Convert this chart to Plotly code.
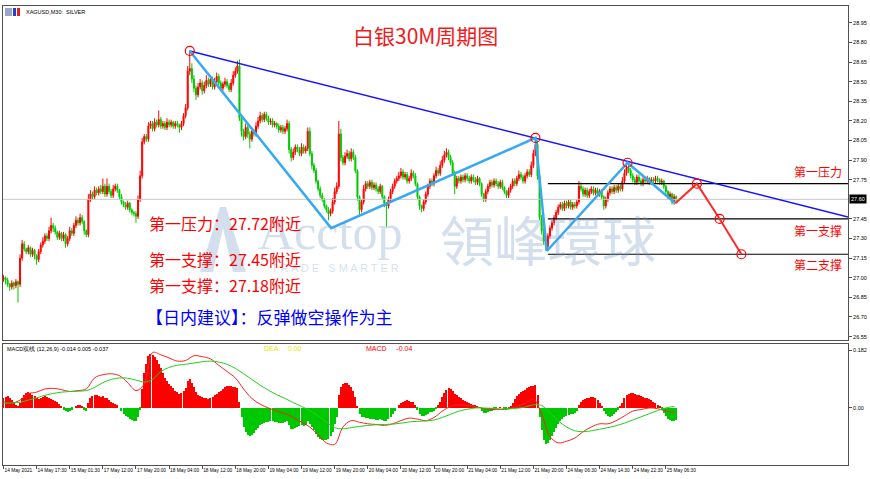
import plotly.graph_objects as go

# ---------------- data ----------------
closes = [
 27.00, 26.98, 26.95, 26.93, 26.96, 26.94, 26.97, 26.95, 27.15, 27.26,
 27.22, 27.20, 27.23, 27.18, 27.21, 27.17, 27.14, 27.20, 27.25, 27.28,
 27.32, 27.30, 27.36, 27.40, 27.38, 27.35, 27.31, 27.34, 27.30, 27.33,
 27.26, 27.30, 27.36, 27.34, 27.40, 27.44, 27.42, 27.46, 27.43, 27.36,
 27.33, 27.60, 27.64, 27.62, 27.67, 27.65, 27.68, 27.66, 27.70, 27.64,
 27.70, 27.66, 27.63, 27.68, 27.70, 27.67, 27.62, 27.58, 27.56, 27.54,
 27.57, 27.52, 27.50, 27.49, 27.47, 27.60, 27.78, 28.04, 28.08, 28.06,
 28.16, 28.18, 28.14, 28.19, 28.17, 28.21, 28.16, 28.18, 28.15, 28.19,
 28.17, 28.19, 28.16, 28.18, 28.17, 28.15, 28.18, 28.24, 28.30, 28.58,
 28.60, 28.52, 28.45, 28.40, 28.46, 28.49, 28.43, 28.47, 28.51, 28.48,
 28.52, 28.46, 28.50, 28.54, 28.49, 28.45, 28.48, 28.50, 28.47, 28.44,
 28.49, 28.55, 28.58, 28.62, 28.22, 28.12, 28.08, 28.15, 28.10, 28.06,
 28.12, 28.10, 28.16, 28.20, 28.24, 28.21, 28.25, 28.22, 28.19, 28.20,
 28.17, 28.18, 28.16, 28.13, 28.15, 28.12, 28.14, 28.18, 27.98, 27.92,
 27.96, 28.00, 27.98, 27.95, 28.00, 27.97, 27.99, 28.12, 27.95, 27.86,
 27.82, 27.74, 27.68, 27.63, 27.60, 27.55, 27.52, 27.49, 27.51, 27.58,
 27.66, 27.70, 28.10, 27.92, 27.88, 27.93, 27.95, 27.91, 27.96, 27.92,
 27.82, 27.62, 27.52, 27.58, 27.68, 27.72, 27.70, 27.73, 27.69, 27.71,
 27.68, 27.66, 27.70, 27.62, 27.57, 27.55, 27.60, 27.66, 27.70, 27.74,
 27.76, 27.78, 27.81, 27.77, 27.79, 27.74, 27.76, 27.80, 27.78, 27.72,
 27.62, 27.55, 27.53, 27.58, 27.64, 27.70, 27.74, 27.72, 27.78, 27.82,
 27.80, 27.86, 27.90, 27.94, 27.96, 27.92, 27.88, 27.80, 27.70, 27.76,
 27.74, 27.77, 27.75, 27.78, 27.76, 27.74, 27.77, 27.75, 27.73, 27.76,
 27.72, 27.64, 27.60, 27.66, 27.70, 27.73, 27.71, 27.74, 27.72, 27.70,
 27.73, 27.69, 27.66, 27.63, 27.67, 27.70, 27.74, 27.72, 27.76, 27.79,
 27.77, 27.74, 27.78, 27.81, 27.79, 27.86, 27.95, 28.02, 27.78, 27.46,
 27.36, 27.28, 27.24, 27.32, 27.38, 27.42, 27.46, 27.50, 27.54, 27.56,
 27.53, 27.57, 27.55, 27.58, 27.54, 27.56, 27.55, 27.58, 27.70, 27.68,
 27.64, 27.67, 27.63, 27.66, 27.68, 27.65, 27.67, 27.64, 27.66, 27.62,
 27.55, 27.60, 27.65, 27.68, 27.66, 27.69, 27.67, 27.70, 27.68, 27.74,
 27.80, 27.84, 27.82, 27.78, 27.75, 27.73, 27.77, 27.74, 27.72, 27.75,
 27.74, 27.76, 27.73, 27.75, 27.74, 27.76, 27.75, 27.73, 27.74, 27.70,
 27.66, 27.62, 27.64, 27.58, 27.62, 27.60,
]
first_open = 26.99

# upper / lower wick lengths in cents
up_wick = [
 2,1,2,1,2,1,2,1,3,3, 2,1,2,1,2,1,1,2,2,3, 2,2,3,6,2,2,1,2,1,2,
 1,2,3,2,2,3,2,3,2,1, 1,4,3,2,3,2,2,3,6,2, 6,2,2,3,2,2,1,2,1,2,
 2,1,1,1,2,3,4,3,2,2, 3,2,2,3,2,7,2,2,2,3, 2,2,1,2,2,1,2,2,3,4,
 14,4,3,2,3,3,2,3,4,2, 3,2,3,3,2,2,2,3,2,2, 3,3,3,4,5,3,2,3,2,2,
 3,2,3,3,3,2,2,2,2,2, 2,2,1,2,2,2,2,3,2,2, 3,2,2,2,3,2,2,3,3,2,
 2,2,1,2,2,1,1,2,2,3, 3,3,10,4,2,3,3,2,3,2, 2,1,1,2,3,2,2,2,2,2,
 2,2,2,1,1,1,2,2,2,2, 2,3,3,2,2,2,2,3,2,2, 1,1,1,2,2,2,2,2,2,3,
 2,3,3,3,3,2,2,2,2,2, 2,2,2,2,2,2,2,2,2,2, 1,1,1,2,2,2,2,2,2,2,
 2,2,1,1,2,2,2,2,2,3, 2,2,2,2,2,3,3,5,3,2, 2,2,2,2,2,2,2,2,2,2,
 2,2,2,2,2,2,2,2,4,3, 2,2,2,2,2,2,2,2,2,2, 1,2,2,2,2,2,2,2,2,3,
 3,4,3,2,2,2,2,2,2,2, 2,2,1,2,2,2,2,1,2,1, 1,1,2,1,2,1,
]
low_wick = [
 2,3,2,3,2,3,2,14,2,2, 2,2,2,2,2,3,4,2,2,2, 2,2,2,2,3,2,2,2,2,2,
 3,2,2,2,2,2,2,2,2,3, 2,2,2,2,2,2,2,2,2,2, 2,2,2,2,2,2,2,2,2,2,
 2,2,2,2,5,2,2,2,2,2, 2,2,2,2,2,2,2,2,2,2, 2,2,2,2,2,4,2,2,2,2,
 3,3,3,4,2,2,3,2,2,2, 2,2,2,2,2,2,2,2,2,2, 2,2,2,2,2,4,3,2,3,7,
 2,2,2,2,2,2,2,2,2,2, 2,2,2,2,2,2,2,2,3,3, 2,2,2,2,2,2,2,2,2,3,
 2,2,2,2,2,2,2,5,2,2, 2,2,2,3,2,2,2,2,2,2, 2,3,4,2,2,2,2,2,2,2,
 2,2,2,2,3,16,2,2,2,2, 2,2,2,2,2,2,2,2,2,2, 2,3,3,2,2,2,2,2,2,2,
 2,2,2,2,2,2,2,2,6,2, 2,2,2,2,2,2,2,2,2,2, 2,2,2,2,2,2,2,2,2,2,
 2,2,2,2,2,2,2,2,2,2, 2,2,2,2,2,2,2,2,3,2, 3,3,3,2,2,2,2,2,2,2,
 2,2,2,2,2,2,2,2,2,2, 2,2,2,2,2,2,2,2,2,2, 3,2,2,2,2,2,2,2,2,2,
 2,2,2,2,2,2,2,2,2,2, 2,2,2,2,2,2,2,2,2,2, 2,2,2,2,2,2,
]

# MACD histogram (thousandths), one per bar
macd_hist = [
 30,35,38,32,25,18,10,5,15,30, 42,48,50,47,42,38,30,28,32,35,
 38,36,32,28,25,22,18,12,5,-5, -10,-12,-8,-5,0,5,8,10,6,-5,
 -10,15,30,38,42,40,38,35,38,32, 30,25,20,15,12,8,0,-10,-18,-25,
 -30,-35,-38,-40,-42,-30,-5,60,110,140, 165,170,168,160,150,140,125,110,95,85,
 75,70,62,55,50,45,48,55,62,85, 90,80,65,50,42,38,35,30,30,28,
 32,36,40,45,50,55,60,65,68,70, 68,66,65,62,20,-30,-60,-75,-85,-90,
 -85,-80,-70,-62,-55,-50,-48,-45,-44,-42, -42,-43,-45,-46,-48,-47,-45,-42,-55,-65,
 -66,-62,-60,-58,-55,-56,-55,-40,-50,-60, -70,-82,-92,-98,-100,-102,-100,-98,-90,-75,
 -50,-30,40,65,75,80,78,72,65,55, 35,5,-20,-28,-30,-32,-33,-35,-34,-36,
 -38,-38,-36,-38,-40,-40,-36,-30,-20,-10, 0,8,15,20,22,24,22,20,18,10,
 -5,-18,-25,-25,-22,-18,-14,-12,-8,-2, 8,20,35,48,58,62,60,55,45,40,
 35,30,26,22,18,15,12,10,8,6, 2,-8,-15,-15,-12,-10,-8,-5,-2,0,
 2,0,-2,-5,-2,5,15,28,38,45, 50,55,58,62,65,68,70,72,40,-30,
 -70,-100,-115,-110,-100,-90,-75,-62,-50,-40, -35,-30,-25,-22,-20,-18,-15,-10,10,20,
 25,28,30,32,35,34,30,25,15,5, -10,-20,-25,-28,-25,-20,-12,-5,5,15,
 30,40,45,48,48,45,42,40,38,35, 32,30,28,25,20,15,10,5,-5,-15,
 -25,-35,-38,-40,-42,-37,
]
# DIF (red) and DEA (green) lines, thousandths, one value every 4 bars
line_step = 4
dif_line = [
 20,15,25,45,50,60,62,58,52,55, 60,95,105,108,102,80,55,75,175,168,
 158,148,150,165,162,155,135,115,95,60, 30,12,0,-10,-18,-30,-45,-60,-85,-110,
 -115,-60,-40,-45,-50,-52,-55,-50,-40,-32, -35,-40,-30,-10,5,10,8,5,-2,-5,
 -5,-3,5,15,28,-20,-90,-110,-105,-95, -75,-60,-50,-50,-40,-25,-10,-5,0,-2,
 -10,-14,
]
dea_line = [
 15,16,18,25,32,40,46,50,52,53, 55,65,80,90,95,94,88,82,90,115,
 128,135,138,142,146,148,145,138,125,108, 90,72,56,42,30,17,5,-8,-25,-45,
 -62,-66,-62,-58,-55,-53,-52,-51,-48,-44, -42,-41,-38,-30,-20,-10,-4,0,0,-1,
 -3,-3,-1,3,10,8,-15,-40,-60,-72, -75,-72,-67,-62,-56,-48,-38,-28,-18,-8,
 0,5,
]

tick_step = 16
tick_labels = [
 "14 May 2021", "14 May 17:30", "15 May 01:30", "17 May 12:00", "17 May 20:00",
 "18 May 04:00", "18 May 12:00", "18 May 20:00", "19 May 04:00", "19 May 12:00",
 "19 May 20:00", "20 May 04:00", "20 May 12:00", "20 May 20:00", "21 May 04:00",
 "21 May 12:00", "21 May 20:00", "24 May 06:30", "24 May 14:30", "24 May 22:30",
 "25 May 06:30",
]
price_ticks = [26.55, 26.70, 26.85, 27.00, 27.15, 27.30, 27.45, 27.75,
               27.90, 28.05, 28.20, 28.35, 28.50, 28.65, 28.80, 28.95]
macd_ticks = [-0.181, 0.0, 0.182]
macd_tick_text = ["-0.181", "0.00", "0.182"]

# analysis drawings (bar index, price)
trend_idx = [90, 408]
trend_px = [28.735, 27.465]
zig_idx = [90, 158.3, 257, 262.5, 301.5, 324.6]
zig_px = [28.735, 27.38, 28.07, 27.205, 27.88, 27.57]
proj_idx = [324.6, 335, 346, 356.5]
proj_px = [27.57, 27.72, 27.45, 27.18]
circle_idx = [90, 257, 301.5, 335, 346, 356.5]
circle_px = [28.735, 28.07, 27.88, 27.72, 27.45, 27.18]
levels = [27.72, 27.45, 27.18]
level_start = 263
level_names = ["第一压力", "第一支撑", "第二支撑"]
notes = ["第一压力：27.72附近", "第一支撑：27.45附近", "第一支撑：27.18附近"]
advice = "【日内建议】：反弹做空操作为主"
title_text = "白银30M周期图"
symbol_text = "XAGUSD,M30:  SILVER"
macd_header = "MACD双线 (12,26,9) -0.014 0.005 -0.037"

# ---------------- derived ----------------
N = len(closes)
idx = list(range(N))
opens = [first_open] + closes[:-1]
highs = [max(o, c) + u / 100 for o, c, u in zip(opens, closes, up_wick)]
lows = [min(o, c) - l / 100 for o, c, l in zip(opens, closes, low_wick)]
hist = [v / 1000 for v in macd_hist[:N]]
line_x = [i * line_step for i in range(len(dif_line))]
dif = [v / 1000 for v in dif_line]
dea = [v / 1000 for v in dea_line]

W, H = 870, 479
L, R, T, B = 3, 22, 6, 14
pw, ph = W - L - R, H - T - B


def px(x):
    return (x - L) / pw


def py(y):
    return (H - B - y) / ph


main_dom = [py(340), 1.0]
macd_dom = [0.0, py(344)]
xr = [-0.24, 408.0]
RED = "#ff0000"
GREEN = "#00c800"
WM = "rgba(110,150,195,0.30)"

fig = go.Figure()

fig.add_trace(go.Candlestick(
    x=idx, open=opens, high=highs, low=lows, close=closes,
    increasing=dict(line=dict(color=RED, width=1), fillcolor=RED),
    decreasing=dict(line=dict(color=GREEN, width=1), fillcolor=GREEN),
    whiskerwidth=0, xaxis="x", yaxis="y", showlegend=False, hoverinfo="skip"))

# current price line
fig.add_trace(go.Scatter(x=xr, y=[closes[-1]] * 2, mode="lines",
                         line=dict(color="#c8c8c8", width=1),
                         xaxis="x", yaxis="y", showlegend=False, hoverinfo="skip"))

# level lines
for lv in levels:
    fig.add_trace(go.Scatter(x=[level_start, xr[1]], y=[lv, lv], mode="lines",
                             line=dict(color="#000000", width=1.2),
                             xaxis="x", yaxis="y", showlegend=False, hoverinfo="skip"))

fig.add_trace(go.Scatter(x=trend_idx, y=trend_px, mode="lines",
                         line=dict(color="#1414ff", width=1.5),
                         xaxis="x", yaxis="y", showlegend=False, hoverinfo="skip"))
fig.add_trace(go.Scatter(x=zig_idx, y=zig_px, mode="lines",
                         line=dict(color="#36a9f2", width=2.5),
                         xaxis="x", yaxis="y", showlegend=False, hoverinfo="skip"))
fig.add_trace(go.Scatter(x=proj_idx, y=proj_px, mode="lines",
                         line=dict(color="#ff2a2a", width=2),
                         xaxis="x", yaxis="y", showlegend=False, hoverinfo="skip"))
fig.add_trace(go.Scatter(x=circle_idx, y=circle_px, mode="markers",
                         marker=dict(symbol="circle-open", size=9, color="#ff0000",
                                     line=dict(width=1.2, color="#ff0000")),
                         xaxis="x", yaxis="y", showlegend=False, hoverinfo="skip"))

# MACD pane
fig.add_trace(go.Bar(x=idx, y=hist,
                     marker=dict(color=[RED if v >= 0 else GREEN for v in hist], line=dict(width=0)),
                     width=0.5, xaxis="x2", yaxis="y2", showlegend=False, hoverinfo="skip"))
fig.add_trace(go.Scatter(x=line_x, y=dif, mode="lines", line=dict(color="#ff2020", width=1, shape="spline"),
                         xaxis="x2", yaxis="y2", showlegend=False, hoverinfo="skip"))
fig.add_trace(go.Scatter(x=line_x, y=dea, mode="lines", line=dict(color="#1fd21f", width=1, shape="spline"),
                         xaxis="x2", yaxis="y2", showlegend=False, hoverinfo="skip"))

tick_font = dict(family="Liberation Sans", size=5.5, color="#000000")
xtick_font = dict(family="Liberation Sans", size=4.8, color="#000000")
axis_common = dict(showgrid=False, zeroline=False, showline=True, linecolor="#505050",
                   linewidth=1, mirror=True, automargin=False)

fig.update_layout(
    width=W, height=H, margin=dict(l=L, r=R, t=T, b=B),
    paper_bgcolor="#ffffff", plot_bgcolor="#ffffff",
    bargap=0,
    xaxis=dict(domain=[0, 1], range=xr, anchor="y", showticklabels=False, ticks="",
               rangeslider=dict(visible=False), **axis_common),
    yaxis=dict(domain=main_dom, range=[26.524, 29.079], side="right",
               tickvals=price_ticks, ticktext=[f"{v:.2f}" for v in price_ticks],
               ticks="outside", ticklen=3, tickcolor="#505050", tickfont=tick_font,
               **axis_common),
    xaxis2=dict(domain=[0, 1], range=xr, anchor="y2", matches="x",
                tickvals=[i * tick_step for i in range(len(tick_labels))], ticktext=tick_labels,
                ticks="outside", ticklen=3, tickcolor="#505050", tickfont=xtick_font,
                tickangle=0, ticklabelposition="outside right", **axis_common),
    yaxis2=dict(domain=macd_dom, range=[-0.18, 0.202], side="right",
                tickvals=macd_ticks, ticktext=macd_tick_text,
                ticks="outside", ticklen=3, tickcolor="#505050", tickfont=tick_font,
                **axis_common),
)

# watermark logo (faint)
fig.add_shape(type="path", xref="paper", yref="paper", layer="above",
              path=f"M {px(200)} {py(272)} L {px(220)} {py(207)} L {px(226)} {py(207)} "
                   f"L {px(246)} {py(272)} L {px(233)} {py(272)} L {px(223)} {py(228)} "
                   f"L {px(213)} {py(272)} Z",
              fillcolor=WM, line=dict(width=0))
# small chart icon next to the symbol label
for x0, x1, col in [(5, 12, "#9aa8c8"), (13, 16, "#2040d0"), (17, 20, "#e02020")]:
    fig.add_shape(type="rect", xref="paper", yref="paper",
                  x0=px(x0), x1=px(x1), y0=py(16), y1=py(8),
                  fillcolor=col, line=dict(width=0))

ann = []
# current price tag
ann.append(dict(x=1.0, xref="paper", y=closes[-1], yref="y", text=f"{closes[-1]:.2f}",
                showarrow=False, xanchor="left", yanchor="middle", xshift=1,
                font=dict(family="Liberation Sans", size=5.5, color="#ffffff"),
                bgcolor="#000000", borderpad=1))


def txt(x, y, t, font, xa="center"):
    ann.append(dict(x=px(x), y=py(y), xref="paper", yref="paper", text=t, showarrow=False,
                    xanchor=xa, yanchor="middle", font=font))


txt(425, 35, title_text, dict(family="Noto Sans CJK SC", size=21, color="#ee1c1c"))
txt(24, 12, symbol_text, dict(family="Liberation Sans", size=5.5, color="#000000"), "left")
# watermark text
txt(330, 232, "Acctop", dict(family="Liberation Serif", size=50, color=WM))
txt(548, 238, "領峰環球", dict(family="Noto Sans CJK TC", size=54, color=WM))
txt(335, 268, "T R A D E   S M A R T E R", dict(family="Liberation Sans", size=11, color=WM))
# notes
for t, yy in zip(notes, [223, 259, 285]):
    txt(147, yy, t, dict(family="Noto Sans CJK SC", size=16, color="#ff0000"), "left")
txt(144, 316, advice, dict(family="Noto Sans CJK SC", size=17, color="#0000ff"), "left")
for t, yy in zip(level_names, [171, 230, 265]):
    txt(818, yy, t, dict(family="Noto Sans CJK SC", size=12, color="#ff0000"))
# MACD header
txt(5, 349, macd_header, dict(family="Liberation Sans", size=5.5, color="#000000"), "left")
txt(262, 349, "DEA     0.00", dict(family="Liberation Sans", size=7, color="#e6e600"), "left")
txt(364, 349, "MACD     -0.04", dict(family="Liberation Sans", size=7, color="#ff0000"), "left")
fig.update_layout(annotations=ann)

fig.write_html("out.html")
